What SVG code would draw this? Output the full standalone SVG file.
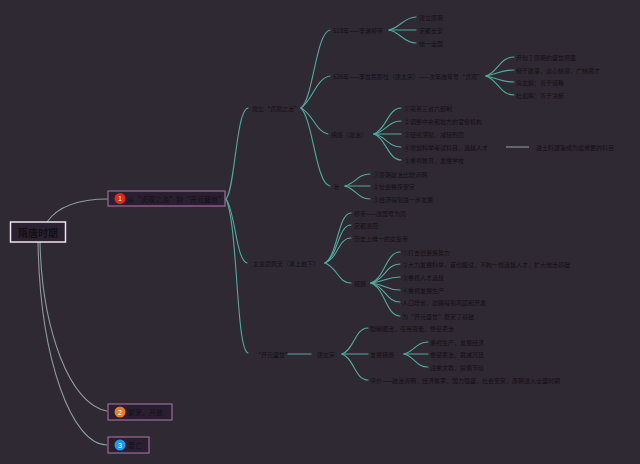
<svg xmlns="http://www.w3.org/2000/svg" width="640" height="464" viewBox="0 0 640 464">
<style>
text{font-family:"Noto Sans CJK SC","Noto Sans",sans-serif;fill:#141016;dominant-baseline:central}
.t{font-size:6px}
.tp{font-size:7px}
.c{fill:none;stroke:#52ab9e;stroke-width:1.1;stroke-linecap:round}
.g{fill:none;stroke:#8c9b9e;stroke-width:1.1}
.box{fill:#2a1e31;stroke:#9c6b98;stroke-width:1.2}
.num{fill:#fff;font-size:7px;text-anchor:middle;font-family:"Liberation Sans",sans-serif}
</style>
<rect width="640" height="464" fill="#2f2934"/>
<g id="connectors">
<path class="g" d="M47,222 C58,206 80,199 108,199"/>
<path class="g" d="M40,242 C42,330 70,405 107,411"/>
<path class="g" d="M38,242 C40,360 72,445 107,445"/>
<path class="c" d="M226,199 C235,190 236,110 248,108"/>
<path class="c" d="M226,199 C235,210 236,260 247,263"/>
<path class="c" d="M226,199 C238,225 236,350 248,353"/>
<path class="c" d="M301,108 C313,100 316,32 330,30"/>
<path class="c" d="M301,108 C313,100 316,78 330,76"/>
<path class="c" d="M301,108 C313,114 316,132 328,134"/>
<path class="c" d="M301,108 C313,120 316,184 330,186"/>
<path class="c" d="M389,30 C400,28 404,17 416,17"/>
<path class="c" d="M389,30 L416,30"/>
<path class="c" d="M389,30 C400,32 404,43 416,43"/>
<path class="c" d="M486,76 C498,72 500,57 514,57"/>
<path class="c" d="M486,76 C498,74 500,70 514,70"/>
<path class="c" d="M486,76 C498,78 500,82 514,82"/>
<path class="c" d="M486,76 C498,80 500,95 514,95"/>
<path class="c" d="M374,134 C386,130 388,108 401,108"/>
<path class="c" d="M374,134 C386,132 388,121 401,121"/>
<path class="c" d="M374,134 L401,134"/>
<path class="c" d="M374,134 C386,136 388,147 401,147"/>
<path class="c" d="M374,134 C386,138 388,160 401,160"/>
<path class="g" d="M506,147 L529,147"/>
<path class="c" d="M345,186 C356,183 358,174 370,174"/>
<path class="c" d="M345,186 L370,186"/>
<path class="c" d="M345,186 C356,189 358,199 370,199"/>
<path class="c" d="M325,263 C338,255 338,213 351,213"/>
<path class="c" d="M325,263 C338,257 338,225 351,225"/>
<path class="c" d="M325,263 C338,259 338,238 351,238"/>
<path class="c" d="M325,263 C338,268 338,283 351,283"/>
<path class="c" d="M371,283 C385,278 386,252 400,252"/>
<path class="c" d="M371,283 C385,280 386,264 400,264"/>
<path class="c" d="M371,283 C385,282 386,277 400,277"/>
<path class="c" d="M371,283 C385,284 386,290 400,290"/>
<path class="c" d="M371,283 C385,286 386,302 400,302"/>
<path class="c" d="M371,283 C385,288 386,316 400,316"/>
<path class="c" d="M288,354 L311,354"/>
<path class="c" d="M342,354 C354,350 355,328 368,328"/>
<path class="c" d="M342,354 L368,354"/>
<path class="c" d="M342,354 C354,358 355,380 368,380"/>
<path class="c" d="M404,354 C414,352 416,342 428,342"/>
<path class="c" d="M404,354 L428,354"/>
<path class="c" d="M404,354 C414,356 416,367 428,367"/>
</g>
<g id="root">
<rect x="10.5" y="222" width="55" height="20" fill="#2a2230" stroke="#ece4ee" stroke-width="1.5"/>
<text x="38" y="232" font-size="10" font-weight="bold" text-anchor="middle">隋唐时期</text>
</g>
<g id="topic1">
<rect class="box" x="108" y="191" width="117" height="15"/>
<circle cx="120" cy="198.5" r="5.5" fill="#e0281c"/>
<text class="num" x="120" y="198.8">1</text>
<text class="tp" x="127" y="198.5">从“贞观之治”到“开元盛世”</text>
</g>
<g id="topic2">
<rect class="box" x="108" y="404" width="64" height="16"/>
<circle cx="120" cy="412" r="5.5" fill="#f07c14"/>
<text class="num" x="120" y="412.3">2</text>
<text class="tp" x="128" y="412">繁荣、开放</text>
</g>
<g id="topic3">
<rect class="box" x="108" y="437" width="41" height="16"/>
<circle cx="120" cy="445" r="5.5" fill="#1e9ce8"/>
<text class="num" x="120" y="445.3">3</text>
<text class="tp" x="128" y="445">衰亡</text>
</g>
<g id="b1">
<text class="t" x="252" y="108">建立“贞观之治”</text>
</g>
<g id="b1a">
<text class="t" x="333" y="30">618年——李渊称帝</text>
<text class="t" x="419" y="17">建立唐朝</text>
<text class="t" x="419" y="30">定都长安</text>
<text class="t" x="419" y="43">统一全国</text>
</g>
<g id="b1b">
<text class="t" x="333" y="76">626年——李世民即位（唐太宗）——次年改年号“贞观”</text>
<text class="t" x="516" y="57">开创了唐朝的盛世局面</text>
<text class="t" x="516" y="70">勤于政事，虚心纳谏，广纳贤才</text>
<text class="t" x="516" y="82">房玄龄：善于谋略</text>
<text class="t" x="516" y="95">杜如晦：善于决断</text>
</g>
<g id="b1c">
<text class="t" x="331" y="134">措施（政治）</text>
<text class="t" x="404" y="108">①完善三省六部制</text>
<text class="t" x="404" y="121">②调整中央和地方的官僚机构</text>
<text class="t" x="404" y="134">③轻徭薄赋，减轻刑罚</text>
<text class="t" x="404" y="147">④增加科举考试科目，选拔人才</text>
<text class="t" x="536" y="147">进士科逐渐成为最重要的科目</text>
<text class="t" x="404" y="160">⑤重视教育，发展学校</text>
</g>
<g id="b1d">
<text class="t" x="333" y="186">治</text>
<text class="t" x="373" y="174">①唐朝政治比较清明</text>
<text class="t" x="373" y="186">②社会秩序安定</text>
<text class="t" x="373" y="199">③经济得到进一步发展</text>
</g>
<g id="b2">
<text class="t" x="253" y="263">女皇武则天（承上启下）</text>
<text class="t" x="354" y="213">称帝——改国号为周</text>
<text class="t" x="354" y="225">定都洛阳</text>
<text class="t" x="354" y="238">历史上唯一的女皇帝</text>
<text class="t" x="354" y="283">措施</text>
<text class="t" x="402" y="252">①打击旧贵族势力</text>
<text class="t" x="402" y="264">②大力发展科举，首创殿试，不拘一格选拔人才，扩大统治基础</text>
<text class="t" x="402" y="277">③重视人才选拔</text>
<text class="t" x="402" y="290">④重视发展生产</text>
<text class="t" x="402" y="302">人口增长，边疆得到巩固和开发</text>
<text class="t" x="402" y="316">为“开元盛世”奠定了基础</text>
</g>
<g id="b3">
<text class="t" x="255" y="354">“开元盛世”</text>
<text class="t" x="317" y="354">唐玄宗</text>
<text class="t" x="370" y="328">励精图治，任用贤能，整顿吏治</text>
<text class="t" x="370" y="354">发展措施</text>
<text class="t" x="430" y="342">重视生产，发展经济</text>
<text class="t" x="430" y="354">整顿吏治，裁减冗员</text>
<text class="t" x="430" y="367">注重文教，提倡节俭</text>
<text class="t" x="370" y="380">评价——政治清明，经济繁荣，国力强盛，社会安定，唐朝进入全盛时期</text>
</g>
</svg>
